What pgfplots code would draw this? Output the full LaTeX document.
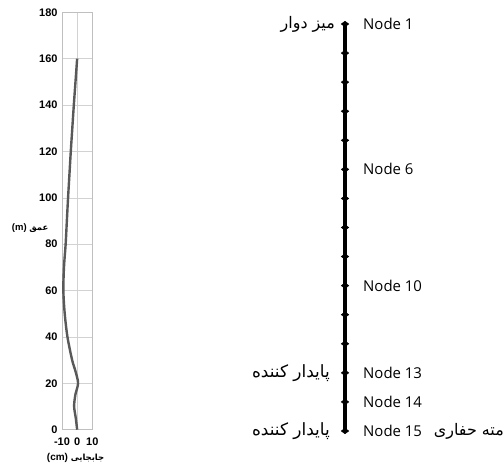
\documentclass[border=0pt]{standalone}
\usepackage{fontspec}
\setmainfont{Liberation Sans}
\newfontfamily\nodefont{Open Sans}
\newfontfamily\arabicfont[Script=Arabic]{DejaVu Sans}
\TeXXeTstate=1
\usepackage{pgfplots}
\pgfplotsset{compat=1.18}

\begin{document}
\begin{tikzpicture}[x=1bp,y=1bp]
\useasboundingbox (0,0) rectangle (504,466);

% left: displacement profile
\begin{axis}[
  at={(62bp,36.3bp)}, anchor=south west,
  scale only axis, width=30.3bp, height=417.4bp,
  xmin=-10, xmax=10, ymin=0, ymax=180,
  xtick={-10,0,10}, ytick={0,20,...,180},
  grid=major, grid style={gray!35, line width=0.6bp},
  axis line style={gray!50, line width=0.6bp},
  major tick length=0pt,
  /pgf/number format/assume math mode=true,
  ticklabel style={font=\fontsize{11}{13}\selectfont\bfseries},
  yticklabel style={xshift=-1bp},
  xticklabel style={yshift=-5bp},
  clip=false,
]
\addplot[color=black!65, line width=2.4bp, smooth] coordinates {
  (0,0) (-0.9,5) (-2,10) (-1.2,15) (0.6,20) (-1.0,25) (-3.3,30)
  (-6.4,40) (-8.2,50) (-9.1,60) (-8.7,70) (-7.6,80) (-6.8,90)
  (-6,100) (-5.1,110) (-4.2,120) (-3.2,130) (-2.2,140) (-1.1,150) (0,160)
};
\node[anchor=center, font=\fontsize{10}{12}\selectfont\bfseries] at (rel axis cs:0.45,-0.067)
  {(cm) {\arabicfont\fontsize{8.5}{10}\selectfont\beginR جابجایی\endR}};
\node[anchor=center, font=\fontsize{9.5}{11}\selectfont\bfseries] at (axis cs:-31,87)
  {(m) {\arabicfont\fontsize{8.5}{10}\selectfont\beginR عمق\endR}};
\end{axis}

% right: string schematic
\begin{axis}[
  at={(250bp,35bp)}, anchor=south west,
  scale only axis, width=254bp, height=407bp,
  xmin=0, xmax=254, ymin=1, ymax=15, y dir=reverse,
  hide axis, clip=false,
]
\addplot[black, line width=4.5bp, mark=diamond*, mark size=3.8bp,
  mark options={rotate=90, line width=0.4bp}] coordinates {
  (95,1) (95,2) (95,3) (95,4) (95,5) (95,6) (95,7) (95,8)
  (95,9) (95,10) (95,11) (95,12) (95,13) (95,14) (95,15)
};
\foreach \n in {1,6,10,13,14,15}{
  \edef\tmp{\noexpand\node[anchor=west, font=\noexpand\nodefont\noexpand\fontsize{15}{18}\noexpand\selectfont, inner sep=0pt]
    at (axis cs:113,\n) {Node \n};}
  \tmp
}
\node[anchor=east, inner sep=0pt] at (axis cs:85,1)
  {\arabicfont\fontsize{16}{18}\selectfont\beginR میز دوار\endR};
\node[anchor=east, inner sep=0pt] at (axis cs:80,13)
  {\arabicfont\fontsize{17}{19}\selectfont\beginR پایدار کننده\endR};
\node[anchor=east, inner sep=0pt] at (axis cs:80,15)
  {\arabicfont\fontsize{17}{19}\selectfont\beginR پایدار کننده\endR};
\node[anchor=east, inner sep=0pt] at (axis cs:254,15)
  {\arabicfont\fontsize{16}{18}\selectfont\beginR مته حفاری\endR};
\end{axis}
\end{tikzpicture}
\end{document}
